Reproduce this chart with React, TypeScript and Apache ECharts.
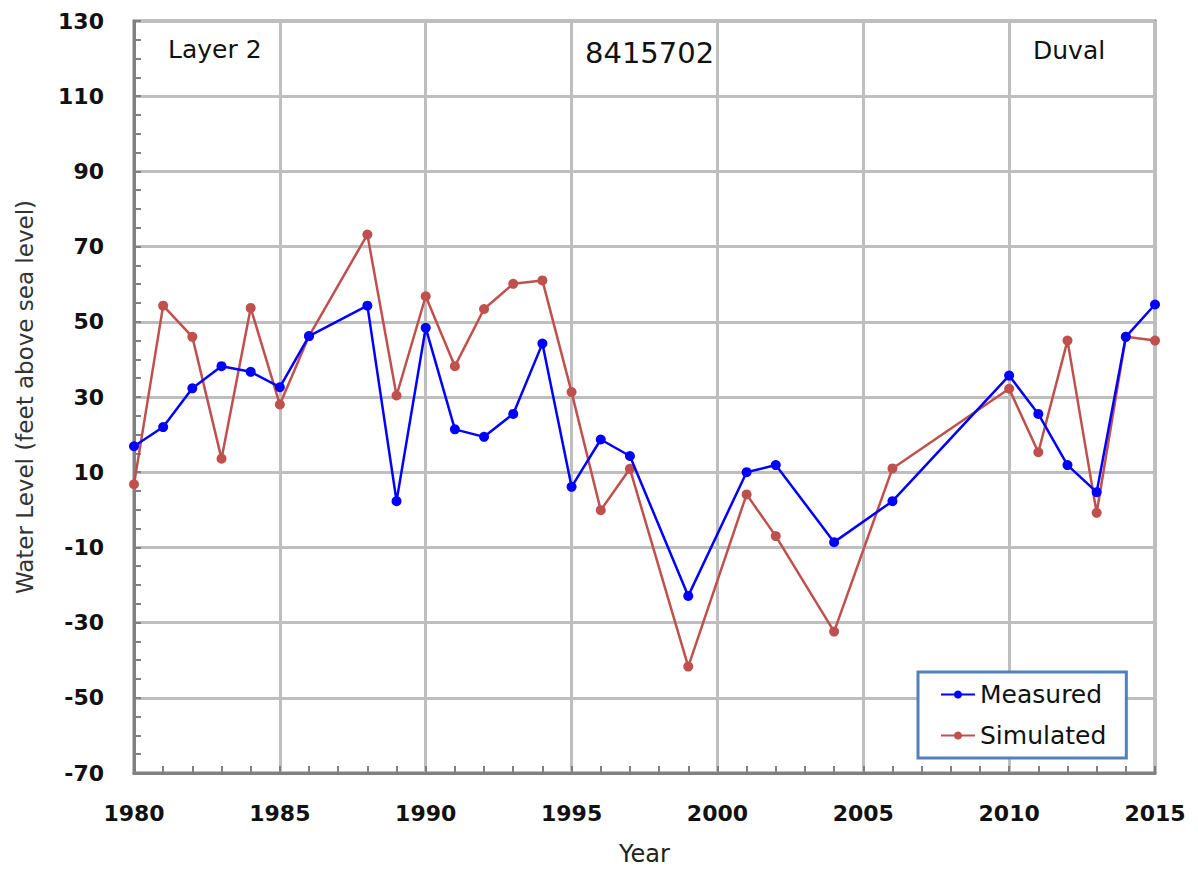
import React, { useEffect, useRef } from "react";
import * as echarts from "echarts";

const years = [1980, 1981, 1982, 1983, 1984, 1985, 1986, 1988, 1989, 1990, 1991, 1992, 1993, 1994, 1995, 1996, 1997, 1999, 2001, 2002, 2004, 2006, 2010, 2011, 2012, 2013, 2014, 2015];
const measured = [16.9, 22.0, 32.3, 38.2, 36.7, 32.6, 46.2, 54.3, 2.3, 48.4, 21.4, 19.4, 25.5, 44.2, 6.1, 18.7, 14.3, -22.9, 10.0, 11.9, -8.6, 2.3, 35.7, 25.5, 11.9, 4.7, 46.0, 54.6];
const simulated = [6.8, 54.3, 46.0, 13.6, 53.7, 28.0, 46.2, 73.2, 30.4, 56.8, 38.2, 53.4, 60.1, 61.0, 31.3, -0.1, 10.9, -41.7, 4.1, -7.0, -32.4, 11.0, 32.2, 15.3, 45.0, -0.8, 46.0, 45.0];
const seriesNames = ["Measured", "Simulated"];
const chartTitle = "8415702";
const layerLabel = "Layer 2";
const countyLabel = "Duval";

const FONT = "'DejaVu Sans', 'Noto Sans', sans-serif";

export default function App() {
  const ref = useRef<HTMLDivElement>(null);
  useEffect(() => {
    if (!ref.current) return;
    const chart = echarts.init(ref.current, null, { renderer: "svg" });
    const mData = years.map((y, i) => [y, measured[i]]);
    const sData = years.map((y, i) => [y, simulated[i]]);
    chart.setOption({
      animation: false,
      backgroundColor: "#ffffff",
      textStyle: { fontFamily: FONT },
      grid: {
        left: 134,
        top: 21,
        width: 1021,
        height: 752,
        show: true,
        borderColor: "#808080",
        borderWidth: 3,
        backgroundColor: "transparent",
      },
      xAxis: {
        type: "value",
        min: 1980,
        max: 2015,
        interval: 5,
        name: "Year",
        nameLocation: "middle",
        nameGap: 69,
        nameTextStyle: { fontSize: 24, color: "#222", fontFamily: FONT },
        axisLine: { show: true, onZero: false, lineStyle: { color: "#808080", width: 3 } },
        axisTick: { show: true, inside: true, length: 7, lineStyle: { color: "#808080", width: 2 } },
        minorTick: { show: true, splitNumber: 5, length: 7, lineStyle: { color: "#808080", width: 2 } },
        axisLabel: { fontSize: 22, fontWeight: "bold", color: "#111", margin: 29, fontFamily: FONT, formatter: (v: number) => String(v) },
        splitLine: { show: true, lineStyle: { color: "#BEBEBE", width: 3 } },
      },
      yAxis: {
        type: "value",
        min: -70,
        max: 130,
        interval: 20,
        name: "Water Level (feet above sea level)",
        nameLocation: "middle",
        nameGap: 98,
        nameRotate: 90,
        nameTextStyle: { fontSize: 23, color: "#333", fontFamily: FONT },
        axisLine: { show: true, onZero: false, lineStyle: { color: "#808080", width: 3 } },
        axisTick: { show: true, inside: true, length: 7, lineStyle: { color: "#808080", width: 2 } },
        minorTick: { show: true, splitNumber: 4, length: 7, lineStyle: { color: "#808080", width: 2 } },
        axisLabel: { fontSize: 22, fontWeight: "bold", color: "#111", margin: 30, fontFamily: FONT },
        splitLine: { show: true, lineStyle: { color: "#BEBEBE", width: 3 } },
      },
      legend: {
        orient: "vertical",
        left: 918,
        top: 672,
        borderColor: "#4F81BD",
        borderWidth: 3,
        padding: [10, 20, 10, 22],
        itemGap: 16,
        itemWidth: 34,
        itemHeight: 10,
        textStyle: { fontSize: 25, color: "#111", fontFamily: FONT },
        data: seriesNames,
        backgroundColor: "#fff",
      },
      series: [
        {
          name: seriesNames[0],
          type: "line",
          data: mData,
          symbol: "circle",
          symbolSize: 10,
          itemStyle: { color: "#0000FF" },
          lineStyle: { color: "#0000FF", width: 2.5 },
          z: 3,
        },
        {
          name: seriesNames[1],
          type: "line",
          data: sData,
          symbol: "circle",
          symbolSize: 10,
          itemStyle: { color: "#C0504D" },
          lineStyle: { color: "#C0504D", width: 2.5 },
          z: 2,
        },
      ],
      graphic: [
        { type: "text", left: 168, top: 37, style: { text: layerLabel, fontSize: 25, fill: "#111", fontFamily: FONT } },
        { type: "text", left: 585, top: 38, style: { text: chartTitle, fontSize: 29, fill: "#111", fontFamily: FONT } },
        { type: "text", left: 1033, top: 38, style: { text: countyLabel, fontSize: 25, fill: "#111", fontFamily: FONT } },
      ],
    });
    return () => chart.dispose();
  }, []);
  return <div ref={ref} style={{ position: "absolute", left: 0, top: 0, width: 1198, height: 871 }} />;
}
